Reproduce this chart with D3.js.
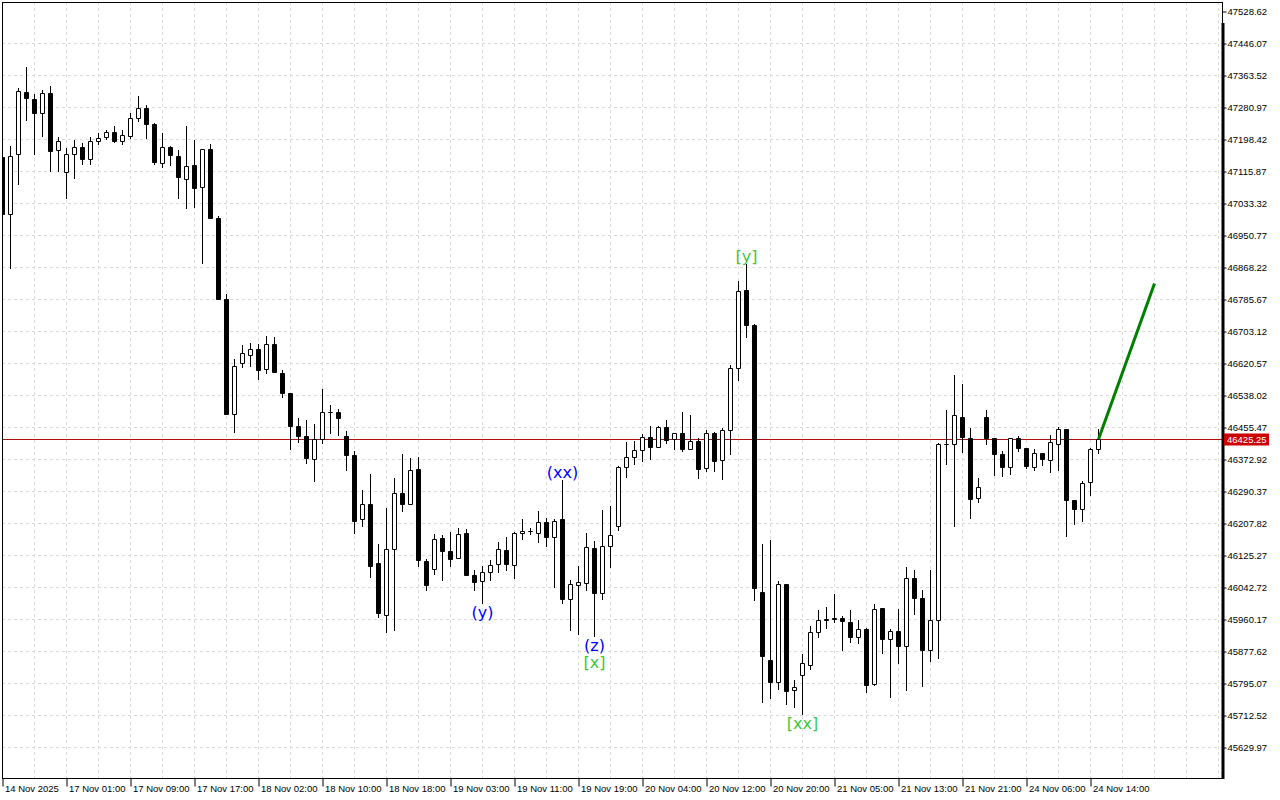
<!DOCTYPE html>
<html>
<head>
<meta charset="utf-8">
<script src="https://cdn.jsdelivr.net/npm/d3@7"></script>
<style>
body{margin:0;background:#fff;}
text{font-family:"Liberation Sans",Arial,sans-serif;}
</style>
</head>
<body>
<svg id="chart" width="1280" height="800"></svg>
<script>
// hourly candles, bar 0 = 14 Nov 2025
var barOpen = [
47151.98,47004.94,47159.72,47319.66,47301.61,47265.49,47317.08,47170.81,47113.29,47159.72,
47177.78,47146.82,47193.26,47203.58,47216.48,47193.26,47206.93,47252.59,47278.39,47237.89,
47136.50,47178.55,47154.56,47094.20,47131.35,47074.59,47172.62,46994.62,46785.67,46489.00,
46620.56,46641.20,46656.68,46605.09,46669.58,46594.77,46543.17,46458.82,46432.25,46372.91,
46424.51,46493.39,46494.93,46432.25,46383.23,46218.13,46256.83,46105.40,45970.48,46140.74,
46285.20,46256.83,46347.12,46109.78,46089.15,46169.12,46135.58,46117.52,46182.02,46074.44,
46058.19,46081.41,46102.04,46138.93,46099.46,46182.02,46186.66,46182.02,46210.39,46171.70,
46218.13,46011.76,46047.87,46053.03,46143.32,46027.23,46148.48,46199.04,46351.24,46378.07,
46396.13,46429.67,46403.87,46455.46,46424.51,46439.99,46397.68,46419.35,46348.66,46439.99,
46370.33,46447.73,46607.67,46808.88,46718.59,46030.59,45855.17,45797.12,46050.71,45776.49,
45815.70,45841.50,45926.63,45960.16,45962.74,45962.74,45952.42,45913.73,45934.36,45791.45,
45988.54,45908.57,45929.98,45889.48,46065.93,46014.34,45880.19,45957.58,46411.61,46411.61,
46481.26,46427.09,46272.31,46481.26,46427.09,46386.59,46352.28,46427.09,46401.29,46352.28,
46388.39,46370.33,46411.61,46450.30,46267.15,46243.93,46313.58,46398.71];
var barHigh = [
47165.66,47182.94,47332.56,47385.70,47317.08,47325.60,47335.92,47203.58,47177.78,47196.61,
47190.68,47203.58,47213.90,47224.21,47232.73,47222.41,47268.07,47310.12,47286.13,47241.24,
47215.44,47181.13,47172.62,47232.73,47196.61,47173.39,47186.29,47002.36,46799.34,46633.46,
46669.58,46674.74,46672.16,46692.80,46690.22,46605.09,46545.24,46481.26,46474.30,46465.78,
46556.07,46512.99,46502.67,46445.92,46394.32,46293.72,46336.80,46154.41,46248.06,46326.48,
46386.59,46376.27,46380.65,46115.72,46180.21,46177.63,46187.17,46197.49,46193.88,46089.15,
46097.66,46113.14,46161.38,46174.28,46187.17,46219.68,46197.49,46239.54,46223.29,46219.68,
46321.32,46063.35,46099.46,46184.60,46162.93,46242.12,46252.44,46357.44,46417.54,46420.12,
46438.18,46458.82,46458.82,46476.10,46440.76,46496.74,46489.00,46429.67,46450.30,46443.34,
46455.46,46617.99,46834.68,46878.53,46723.75,46154.41,46164.73,46058.96,46052.52,45805.38,
45872.45,45944.68,45985.96,45993.70,46027.23,45970.48,45985.96,45960.16,45939.52,46001.44,
45990.60,45936.94,45988.54,46096.89,46089.15,46037.55,46089.15,46414.96,46500.09,46590.38,
46568.97,46455.46,46324.67,46501.90,46428.38,46394.32,46427.09,46434.83,46403.87,46401.29,
46390.97,46437.41,46458.04,46452.88,46268.44,46318.74,46403.87,46451.08];
var barLow = [
46995.40,46864.60,47081.30,47246.40,47158.69,47205.12,47114.84,47114.84,47043.64,47097.81,
47132.89,47132.89,47183.71,47198.42,47189.65,47183.71,47199.19,47243.82,47199.97,47131.35,
47125.15,47129.54,47045.18,47019.39,47021.97,46877.50,46993.59,46784.63,46487.97,46441.53,
46609.21,46611.79,46578.26,46593.74,46595.54,46531.82,46398.71,46416.77,46361.56,46315.13,
46414.19,46439.99,46433.79,46343.50,46182.02,46199.04,46068.51,45964.29,45926.63,45931.78,
46237.74,46255.02,46095.86,46033.94,46075.22,46059.74,46095.86,46115.72,46072.64,46033.94,
46001.44,46060.77,46080.38,46084.76,46064.90,46166.54,46179.44,46158.80,46147.45,46041.68,
46001.44,45930.75,45920.43,46034.97,45915.28,46011.76,46094.31,46188.72,46325.45,46358.98,
46366.72,46371.88,46402.84,46412.38,46397.68,46392.52,46396.90,46322.87,46340.93,46340.93,
46320.29,46384.78,46576.71,46686.61,46008.15,45745.01,45755.85,45777.78,45739.08,45732.63,
45714.57,45831.18,45913.73,45936.94,45951.39,45880.19,45900.83,45898.25,45771.84,45788.87,
45872.45,45757.91,45845.62,45775.97,45972.03,45786.29,45851.81,45859.55,46358.98,46199.04,
46389.94,46219.68,46260.96,46411.61,46330.61,46328.03,46334.22,46391.75,46348.66,46343.50,
46357.44,46338.35,46343.50,46173.25,46205.23,46211.94,46280.04,46388.39];
var barClose = [
47004.94,47153.53,47322.24,47304.19,47265.49,47317.08,47166.43,47193.26,47158.69,47177.78,
47146.82,47193.26,47201.00,47216.48,47192.23,47207.70,47251.56,47278.39,47237.11,47138.57,
47177.78,47156.11,47099.36,47128.77,47070.98,47172.62,46994.62,46785.67,46489.00,46612.83,
46646.36,46656.68,46601.47,46669.58,46596.32,46542.14,46457.01,46431.21,46374.46,46424.51,
46494.16,46494.16,46477.65,46382.20,46211.94,46256.83,46095.86,45974.61,46140.74,46285.20,
46256.83,46344.54,46111.33,46046.84,46166.54,46134.55,46113.91,46179.44,46073.67,46054.58,
46081.41,46099.46,46139.71,46102.04,46182.02,46187.17,46186.66,46210.39,46171.70,46212.97,
46011.76,46050.45,46055.61,46145.90,46027.23,46147.45,46176.86,46352.28,46378.07,46396.13,
46429.67,46403.87,46455.46,46421.93,46439.99,46397.68,46419.35,46346.09,46439.99,46366.72,
46447.73,46607.67,46806.30,46717.56,46039.62,45863.68,45796.61,46050.71,45773.39,45784.74,
45846.65,45926.63,45957.58,45957.58,45960.94,45955.00,45913.73,45934.36,45789.90,45985.96,
45908.57,45929.21,45889.48,46065.93,46014.34,45880.19,45957.58,46411.61,46412.38,46486.42,
46428.64,46268.69,46300.68,46426.06,46384.78,46352.28,46426.06,46400.26,46353.82,46388.39,
46372.91,46416.77,46450.30,46267.15,46243.93,46311.00,46398.71,46425.25];

var priceTicks = [45629.97,45712.52,45795.07,45877.62,45960.17,46042.72,46125.27,46207.82,
  46290.37,46372.92,46455.47,46538.02,46620.57,46703.12,46785.67,46868.22,46950.77,47033.32,
  47115.87,47198.42,47280.97,47363.52,47446.07,47528.62];
var timeTicks = [0,8,16,24,32,40,48,56,64,72,80,88,96,104,112,120,128,136];
var timeLabels = ["14 Nov 2025","17 Nov 01:00","17 Nov 09:00","17 Nov 17:00","18 Nov 02:00",
  "18 Nov 10:00","18 Nov 18:00","19 Nov 03:00","19 Nov 11:00","19 Nov 19:00","20 Nov 04:00",
  "20 Nov 12:00","20 Nov 20:00","21 Nov 05:00","21 Nov 13:00","21 Nov 21:00","24 Nov 06:00","24 Nov 14:00"];

// wave marks
var waveText = ["(y)","(xx)","(z)","[x]","[y]","[xx]"];
var waveBar = [60,70,74,74,93,100];
var waveSide = ["below","above","below","below","above","below"];

// forecast arrow
var arrowBar = [137,144];
var arrowPrice = [46425.25,46827.00];

var svg = d3.select("#chart");
// note: "top" is taken by window.top, so plot* names
var plotL = 2, plotT = 2, plotR = 1222, plotB = 778;

var x = d3.scaleLinear().domain([0, 152.4375]).range([2.5, 1222]);
var y = d3.scaleLinear().domain([45629.97, 47528.62]).range([747.5, 11.5]);

svg.append("rect").attr("width",1280).attr("height",800).attr("fill","#fff");

svg.append("clipPath").attr("id","plotclip").append("rect")
  .attr("x",plotL).attr("y",plotT).attr("width",plotR-plotL).attr("height",plotB-plotT);

var plot = svg.append("g").attr("clip-path","url(#plotclip)");

// grid
var vgrid = d3.range(4, 153, 4);
plot.selectAll(".vg").data(vgrid).enter().append("line")
  .attr("x1",function(d){return x(d);}).attr("x2",function(d){return x(d);})
  .attr("y1",plotT).attr("y2",plotB)
  .style("stroke","#dcdcdc").style("stroke-dasharray","3,3");
plot.selectAll(".hg").data(priceTicks.slice(0,-1)).enter().append("line")
  .attr("x1",plotL).attr("x2",plotR)
  .attr("y1",function(d){return Math.round(y(d)-0.5)+0.5;})
  .attr("y2",function(d){return Math.round(y(d)-0.5)+0.5;})
  .style("stroke","#dcdcdc").style("stroke-dasharray","3,3");

// current price line
var last = barClose[barClose.length-1];
var lastY = Math.round(y(last)-0.5)+0.5;
plot.append("line").attr("x1",plotL).attr("x2",plotR).attr("y1",lastY).attr("y2",lastY)
  .style("stroke","#b01010").style("stroke-width",1);

var bars = d3.range(barOpen.length);

// wicks first so bodies sit on top
plot.selectAll(".wick").data(bars).enter().append("line")
  .attr("x1",function(i){return x(i);}).attr("x2",function(i){return x(i);})
  .attr("y1",function(i){return Math.round(y(barHigh[i]));})
  .attr("y2",function(i){return Math.round(y(barLow[i]));})
  .style("stroke","#000").style("stroke-width",1);

plot.selectAll(".body").data(bars).enter().append("path")
  .attr("d",function(i){
    var t = Math.round(y(Math.max(barOpen[i],barClose[i]))-0.5)+0.5;
    var b = Math.round(y(Math.min(barOpen[i],barClose[i]))-0.5)+0.5;
    var cx = x(i);
    return "M"+(cx-2)+","+t+"H"+(cx+2)+"V"+b+"H"+(cx-2)+"Z";
  })
  .style("fill",function(i){return barClose[i]>barOpen[i] ? "#fff" : "#000";})
  .style("stroke","#000").style("stroke-width",1);

// green forecast line
plot.append("line")
  .attr("x1",x(arrowBar[0])).attr("y1",y(arrowPrice[0]))
  .attr("x2",x(arrowBar[1])).attr("y2",y(arrowPrice[1]))
  .style("stroke","#008000").style("stroke-width",3);

// wave labels
var stack = {};
svg.selectAll(".wave").data(waveText).enter().append("text")
  .attr("x",function(d,i){return x(waveBar[i]);})
  .attr("y",function(d,i){
    var b = waveBar[i];
    if (waveSide[i]=="above") return y(barHigh[b]) - 2;
    var n = stack[b] || 0; stack[b] = n+1;
    return y(barLow[b]) + 14 + n*17;
  })
  .attr("text-anchor","middle")
  .style("font-family","'DejaVu Sans',sans-serif").style("font-size","16px")
  .style("fill",function(d){return d.charAt(0)=="(" ? "#0000ff" : "#3cc83c";})
  .text(function(d){return d;});

// frame
svg.append("rect").attr("x",2.5).attr("y",2.5).attr("width",1220).attr("height",776)
  .style("fill","none").style("stroke","#000");
svg.append("line").attr("x1",1223).attr("x2",1223).attr("y1",23).attr("y2",779)
  .style("stroke","#000").style("stroke-width",3);

// price axis
var yAxis = d3.axisRight(y).tickValues(priceTicks).tickSize(4).tickPadding(1)
  .tickFormat(d3.format(".2f"));
var ya = svg.append("g").attr("transform","translate(1222.5,0)").call(yAxis);
ya.select(".domain").remove();
ya.selectAll("text").style("font-family","'Liberation Sans',sans-serif").style("font-size","9.5px").style("fill","#000");

// time axis
var xAxis = d3.axisBottom(x).tickValues(timeTicks).tickSize(8)
  .tickFormat(function(d,i){return timeLabels[i];});
var xa = svg.append("g").attr("transform","translate(0,778.5)").call(xAxis);
xa.select(".domain").remove();
xa.selectAll("text").attr("text-anchor","start").attr("x",2).attr("y",13).attr("dy",null)
  .style("font-family","'Liberation Sans',sans-serif").style("font-size","9.5px").style("fill","#000");

// last price tag
svg.append("rect").attr("x",1224).attr("y",lastY-6).attr("width",45).attr("height",12)
  .style("fill","#cc0000");
svg.append("text").attr("x",1227).attr("y",lastY+3.5).text(d3.format(".2f")(last))
  .style("font-size","9.5px").style("fill","#fff");
</script>
</body>
</html>
